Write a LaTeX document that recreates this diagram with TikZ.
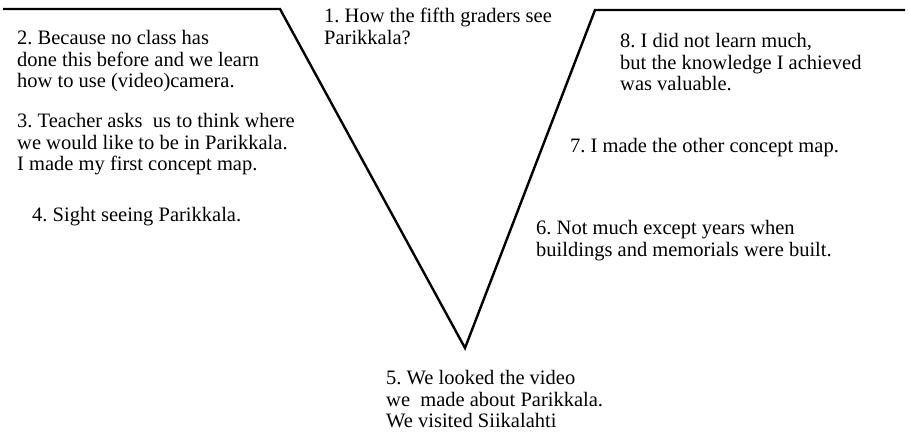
\documentclass[tikz,border=0pt]{standalone}
\usepackage{fontspec}
\setmainfont{Liberation Serif}
\usetikzlibrary{positioning}

\tikzset{
    vline/.style={line width=2.4pt, line join=miter},
    note/.style={anchor=north west, inner sep=0pt, align=left,
        font=\fontsize{20.5}{21.7}\selectfont\frenchspacing}
}

\begin{document}
\begin{tikzpicture}[x=1pt, y=-1pt]

    % fixed frame of the picture
    \useasboundingbox (0,0) rectangle (909,445);

    % ================= the V =================
    \coordinate (LS) at (3, 9);
    \coordinate (LC) at (280, 9);
    \coordinate (V)  at (465, 348);
    \coordinate (RC) at (595, 10);
    \coordinate (RE) at (905, 10);
    \draw[vline] (LS) -- (LC) -- (V) -- (RC) -- (RE);

    % ================= question =================
    \node[note] (q1) at (324, 8) {1. How the fifth graders see\\Parikkala?};

    % ================= left side =================
    \node[note] (s2) at (17, 30) {2. Because no class has\\done this before and we learn\\how to use (video)camera.};
    \node[note] (s3) at (17, 113) {3. Teacher asks\ \ us to think where\\we would like to be in Parikkala.\\I made my first concept map.};
    \node[note] (s4) at (32, 207) {4. Sight seeing Parikkala.};

    % ================= right side =================
    \node[note] (s8) at (620, 33) {8. I did not learn much,\\but the knowledge I achieved\\was valuable.};
    \node[note] (s7) at (570, 138) {7. I made the other concept map.};
    \node[note] (s6) at (536, 220) {6. Not much except years when\\buildings and memorials were built.};

    % ================= bottom =================
    \node[note] (s5) at (386, 370) {5. We looked the video\\we\ \ made about Parikkala.\\We visited Siikalahti};

\end{tikzpicture}
\end{document}
